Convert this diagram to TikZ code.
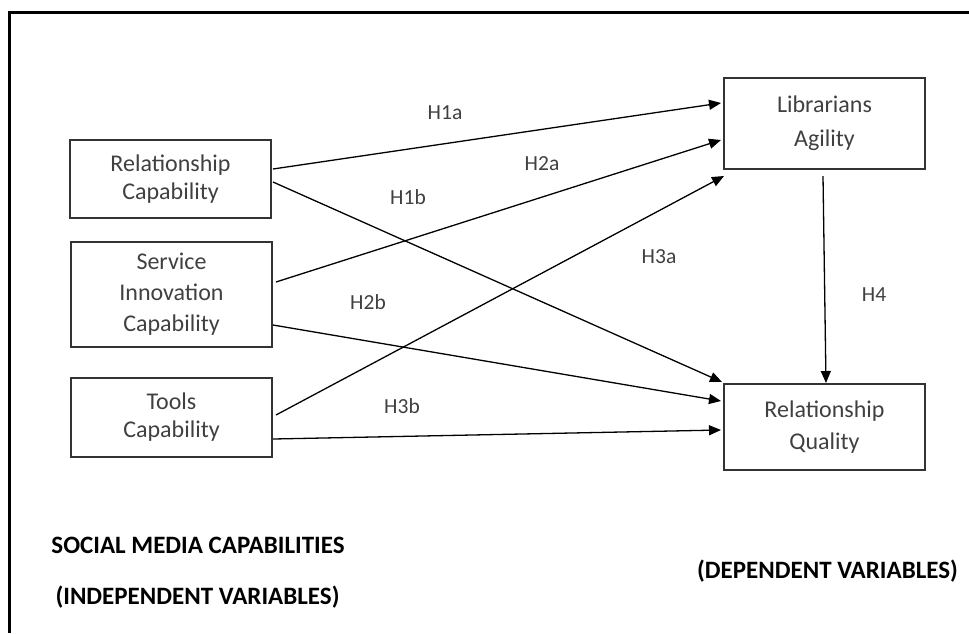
\documentclass[tikz,border=0pt]{standalone}
\usepackage{fontspec}
\setmainfont{Carlito}
\usetikzlibrary{arrows.meta,calc}
\definecolor{boxline}{HTML}{333333}
\definecolor{txtgray}{HTML}{404040}
\begin{document}
\begin{tikzpicture}[x=1pt,y=-1pt,
  varbox/.style={draw=boxline,line width=2pt,minimum width=201pt,inner sep=0pt,
    align=center,text=txtgray,font=\fontsize{24}{28}\selectfont},
  link/.style={line width=1.3pt,-{Triangle[length=12pt,width=10pt]}},
  hyp/.style={text=txtgray,font=\fontsize{21.5}{24}\selectfont},
  heading/.style={font=\bfseries\fontsize{25}{28}\selectfont}]
\useasboundingbox (0,0) rectangle (969,633);

% outer frame: top and left edges only
\draw[line width=3.5pt] (9.5,633) -- (9.5,12.5) -- (969,12.5);

% independent variables
\node[varbox,minimum height=78pt] (rc) at (170.5,179) {Relationship\\Capability};
\node[varbox,minimum height=105pt,font=\fontsize{24}{31}\selectfont] (sic) at (171.5,294.5) {Service\\Innovation\\Capability};
\node[varbox,minimum height=79pt] (tc) at (171.5,417.5) {Tools\\Capability};

% dependent variables
\node[varbox,minimum height=91pt,font=\fontsize{24}{34}\selectfont] (la) at (824.5,123.5) {Librarians\\Agility};
\node[varbox,minimum height=86pt,font=\fontsize{24}{32}\selectfont] (rq) at (824.5,427) {Relationship\\Quality};

% hypothesised paths
\draw[link] ($(rc.east)+(1,-10)$) -- ($(la.west)+(-2,-20.5)$);
\draw[link] ($(rc.east)+(1,3)$) -- ($(rq.north west)+(-1,-1)$);
\draw[link] ($(sic.east)+(3,-12.5)$) -- ($(la.west)+(-2,16.5)$);
\draw[link] ($(sic.east)+(0,30.5)$) -- ($(rq.west)+(-2,-26)$);
\draw[link] ($(tc.east)+(3,-2.5)$) -- ($(la.south west)+(1,6)$);
\draw[link] ($(tc.east)+(0,21.5)$) -- ($(rq.west)+(-2,3)$);
\draw[link] ($(la.south)+(-1.5,6)$) -- ($(rq.north)+(1.5,0)$);

% path labels
\node[hyp] (h1a) at (445,113) {H1a};
\node[hyp] (h2a) at (542,164) {H2a};
\node[hyp] (h1b) at (408,197) {H1b};
\node[hyp] (h3a) at (659,257) {H3a};
\node[hyp] (h2b) at (368,302) {H2b};
\node[hyp] (h3b) at (402,406) {H3b};
\node[hyp] (h4) at (874,295) {H4};

% group headings
\node[heading] (smc) at (198,545) {SOCIAL MEDIA CAPABILITIES};
\node[heading] (iv) at (197.5,597) {(INDEPENDENT VARIABLES)};
\node[heading] (dv) at (827.5,571) {(DEPENDENT VARIABLES)};
\end{tikzpicture}
\end{document}
